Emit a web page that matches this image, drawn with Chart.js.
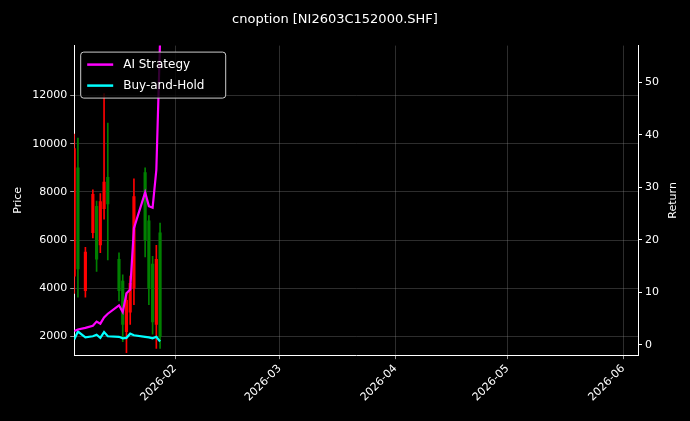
<!DOCTYPE html>
<html>
<head>
<meta charset="utf-8">
<script src="https://cdn.jsdelivr.net/npm/chart.js@4/dist/chart.umd.min.js"></script>
<style>
  html, body { margin: 0; padding: 0; background: #000; }
  #wrap { width: 690px; height: 421px; }
</style>
</head>
<body>
<div id="wrap"><canvas id="chart" width="690" height="421"></canvas></div>
<script>
// days counted from 2026-01-01 (day 0)
const candleDays = [4, 5, 7, 9, 10, 11, 12, 13, 16, 17, 18, 19, 20, 23, 24, 25, 26, 27];
const opens  = [4500, 9000, 3900, 6300, 7400, 5800, 7300, 8600, 5200, 4300, 2200, 3000, 4000, 8800, 6800, 5000, 2500, 6300];
const highs  = [10400, 10230, 5700, 8080, 7620, 7930, 12080, 10850, 5470, 4550, 3800, 4500, 8540, 9000, 7010, 5320, 5780, 6700];
const lows   = [3780, 3630, 3630, 6090, 4700, 5470, 6860, 5170, 3470, 1780, 1320, 2500, 3320, 5300, 3320, 2090, 1500, 1500];
const closes = [9800, 4800, 5500, 7900, 5200, 7600, 8400, 7500, 3900, 2500, 3500, 4200, 7800, 6000, 4000, 2600, 5200, 2000];
const aiReturn  = [2.6, 2.9, 3.2, 3.6, 4.4, 4.0, 5.2, 5.9, 7.5, 6.2, 9.8, 10.5, 22.2, 29.0, 26.4, 26.1, 33.3, 58];
const bahReturn = [1.0, 2.5, 1.4, 1.6, 1.9, 1.3, 2.4, 1.6, 1.5, 1.2, 1.3, 2.1, 1.8, 1.5, 1.4, 1.2, 1.5, 0.6];
const monthTicks = [31, 59, 90, 120, 151];
const monthLabels = ['2026-02', '2026-03', '2026-04', '2026-05', '2026-06'];
const priceTicks = [2000, 4000, 6000, 8000, 10000, 12000];
const returnTicks = [0, 10, 20, 30, 40, 50];

const candleColor = i => closes[i] >= opens[i] ? '#ff0000' : '#008000';
const colors = candleDays.map((d, i) => candleColor(i));
const FONT = 'DejaVu Sans';

const legendBox = {
  id: 'legendBox',
  afterDraw(chart) {
    const { ctx, chartArea } = chart;
    const x = chartArea.left + 6, y = chartArea.top + 6;
    ctx.save();
    ctx.fillStyle = 'rgba(0,0,0,0.8)';
    ctx.strokeStyle = '#cccccc';
    ctx.lineWidth = 1;
    ctx.beginPath();
    ctx.roundRect(x + 0.5, y + 0.5, 145, 46, 3);
    ctx.fill();
    ctx.stroke();
    const items = [['AI Strategy', '#ff00ff'], ['Buy-and-Hold', '#00ffff']];
    ctx.font = `12px "${FONT}"`;
    ctx.textBaseline = 'middle';
    items.forEach(([label, c], i) => {
      const ly = y + 13 + i * 21;
      ctx.strokeStyle = c;
      ctx.lineWidth = 2.5;
      ctx.beginPath();
      ctx.moveTo(x + 7, ly);
      ctx.lineTo(x + 33, ly);
      ctx.stroke();
      ctx.fillStyle = '#ffffff';
      ctx.fillText(label, x + 43, ly);
    });
    // right axis title, reading bottom to top
    ctx.translate(673, (chartArea.top + chartArea.bottom) / 2);
    ctx.rotate(-Math.PI / 2);
    ctx.textAlign = 'center';
    ctx.font = `11px "${FONT}"`;
    ctx.fillText('Return', 0, 0);
    ctx.restore();
  }
};

const grid = { color: 'rgba(150,150,150,0.5)', borderDash: [3, 3], lineWidth: 0.6, offset: false, tickColor: '#ffffff', tickLength: 4 };

new Chart(document.getElementById('chart'), {
  type: 'bar',
  data: {
    datasets: [
      {
        type: 'line', label: 'AI Strategy', yAxisID: 'yR',
        data: candleDays.map((d, i) => ({ x: d, y: aiReturn[i] })),
        borderColor: '#ff00ff', borderWidth: 2.2, pointRadius: 0, tension: 0, order: 0
      },
      {
        type: 'line', label: 'Buy-and-Hold', yAxisID: 'yR',
        data: candleDays.map((d, i) => ({ x: d, y: bahReturn[i] })),
        borderColor: '#00ffff', borderWidth: 2.2, pointRadius: 0, tension: 0, order: 0
      },
      {
        label: 'wick', yAxisID: 'y',
        data: candleDays.map((d, i) => ({ x: d, y: [lows[i], highs[i]] })),
        backgroundColor: colors, barThickness: 1, grouped: false, order: 2
      },
      {
        label: 'body', yAxisID: 'y',
        data: candleDays.map((d, i) => ({ x: d, y: [opens[i], closes[i]] })),
        backgroundColor: colors, barThickness: 2.5, grouped: false, order: 1
      }
    ]
  },
  options: {
    responsive: false,
    animation: false,
    layout: { padding: { top: 8, left: 8, right: 28, bottom: 14 } },
    plugins: {
      legend: { display: false },
      tooltip: { enabled: false },
      title: {
        display: true, text: 'cnoption [NI2603C152000.SHF]', color: '#ffffff',
        font: { family: FONT, size: 13, weight: 'normal' }, padding: { top: 4, bottom: 18 }
      }
    },
    scales: {
      x: {
        type: 'linear', min: 4, max: 155, offset: false,
        afterBuildTicks: axis => { axis.ticks = monthTicks.map(v => ({ value: v })); },
        ticks: {
          color: '#ffffff', font: { family: FONT, size: 11 }, maxRotation: 45, minRotation: 45,
          callback: v => monthLabels[monthTicks.indexOf(v)]
        },
        grid, border: { color: '#ffffff' }
      },
      y: {
        position: 'left', min: 1220, max: 14070,
        afterBuildTicks: axis => { axis.ticks = priceTicks.map(v => ({ value: v })); },
        ticks: { color: '#ffffff', font: { family: FONT, size: 11 }, callback: v => String(v) },
        title: { display: true, text: 'Price', color: '#ffffff', font: { family: FONT, size: 11 } },
        grid, border: { color: '#ffffff' }
      },
      yR: {
        position: 'right', min: -2, max: 57,
        afterBuildTicks: axis => { axis.ticks = returnTicks.map(v => ({ value: v })); },
        ticks: { color: '#ffffff', font: { family: FONT, size: 11 }, callback: v => String(v) },
        grid: { drawOnChartArea: false, tickColor: '#ffffff', tickLength: 4 }, border: { color: '#ffffff' }
      }
    }
  },
  plugins: [legendBox]
});
</script>
</body>
</html>
